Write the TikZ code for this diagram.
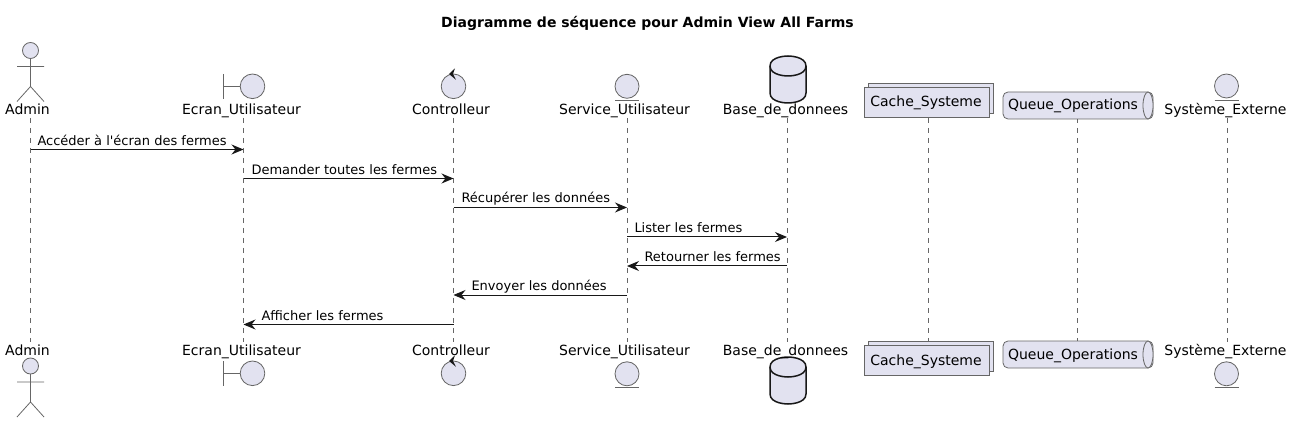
\documentclass[tikz,border=0pt]{standalone}
\usepackage{fontspec}
\setmainfont{DejaVu Sans}
\usetikzlibrary{arrows.meta}
\definecolor{partfill}{HTML}{E2E2F0}
\definecolor{partline}{HTML}{181818}
\definecolor{thinline}{HTML}{666666}
\tikzset{
  fig/.style={draw=thinline,fill=partfill,line width=.8pt},
  thin line/.style={draw=thinline,line width=.8pt},
  partname/.style={font=\fontsize{14}{16}\selectfont,inner sep=0pt,anchor=base},
  msg/.style={draw=partline,line width=1pt,-{Stealth[length=12pt,width=10pt,inset=4pt]}},
  msglabel/.style={font=\fontsize{13}{15}\selectfont,inner sep=0pt,anchor=base west},
  actorfig/.pic={
    \draw[fig] (0,0) circle (8);
    \draw[thin line] (0,8) -- (0,36) (-13.5,16) -- (13.5,16)
      (-13.5,51) -- (0,36) -- (13.5,51);
  },
  boundaryfig/.pic={
    \draw[thin line] (-29,-12.3) -- (-29,12.3) (-29,0) -- (-12.3,0);
    \draw[fig] (0,0) circle (12.3);
  },
  controlfig/.pic={
    \draw[fig] (0,0) circle (12.3);
    \fill[partline] (-4.5,-12.3) -- (1.5,-18) -- (-.5,-12.3) -- (2.5,-6.5) -- cycle;
  },
  entityfig/.pic={
    \draw[fig] (0,0) circle (12);
    \draw[thin line] (-12,14) -- (12,14);
  },
  dbfig/.pic={
    \draw[fill=partfill,draw=partline,line width=1.5pt] (-18,-13.5) .. controls (-18,-23.5) and (0,-23.5) .. (0,-23.5)
      .. controls (0,-23.5) and (18,-23.5) .. (18,-13.5) -- (18,13.5)
      .. controls (18,23.5) and (0,23.5) .. (0,23.5)
      .. controls (0,23.5) and (-18,23.5) .. (-18,13.5) -- cycle;
    \draw[partline,line width=1.5pt] (-18,-13.5) .. controls (-18,-3.5) and (0,-3.5) .. (0,-3.5)
      .. controls (0,-3.5) and (18,-3.5) .. (18,-13.5);
  },
  collfig/.pic={
    \draw[fig] (-58.5,-19) rectangle (66.5,11);
    \draw[fig] (-62.5,-15) rectangle (62.5,15);
  },
  queuefig/.pic={
    \draw[fig,rounded corners=5pt] (-75,-13.5) rectangle (75,13.5);
    \draw[fig] (70,0) ellipse (5 and 13.5);
  }
}
\begin{document}
\begin{tikzpicture}[x=1pt,y=-1pt]
  \useasboundingbox (0,0) rectangle (1291,422);
  \node[partname,font=\fontsize{14}{16}\selectfont\bfseries] (title) at (647.5,28) {Diagramme de séquence pour Admin View All Farms};

  % lifelines
  \foreach \part/\xpos in {admin/30.5,ecran/243.5,ctrl/453.5,service/627,base/787,cache/928,queue/1077.5,externe/1227}{
    \coordinate (\part-top) at (\xpos,118);
    \coordinate (\part-bot) at (\xpos,342);
    \draw[thin line,dash pattern=on 5pt off 5pt] (\part-top) -- (\part-bot);
    \foreach \row/\ypos in {1/149.5,2/178.5,3/207.5,4/237,5/266,6/295,7/324.5}{
      \coordinate (\part-\row) at (\xpos,\ypos);
    }
  }

  % top figures
  \pic at (30.5,50.5) {actorfig};
  \pic at (252.5,86.3) {boundaryfig};
  \pic at (453.5,86.3) {controlfig};
  \pic at (627,86.3) {entityfig};
  \pic at (788,79.5) {dbfig};
  \pic at (926.5,102) {collfig};
  \pic at (1078,105.5) {queuefig};
  \pic at (1226.5,86) {entityfig};

  % bottom figures
  \pic at (30.5,366) {actorfig};
  \pic at (252.5,373.3) {boundaryfig};
  \pic at (453.5,373.3) {controlfig};
  \pic at (627,373.8) {entityfig};
  \pic at (788,380.5) {dbfig};
  \pic at (926.5,360) {collfig};
  \pic at (1078,354.5) {queuefig};
  \pic at (1226.5,373.8) {entityfig};

  % names
  \node[partname] (admin-a) at (27.5,115) {Admin};
  \node[partname] (ecran-a) at (241.5,115) {Ecran\_Utilisateur};
  \node[partname] (ctrl-a) at (451,115) {Controlleur};
  \node[partname] (service-a) at (624.5,115) {Service\_Utilisateur};
  \node[partname] (base-a) at (785.5,115) {Base\_de\_donnees};
  \node[partname] (cache-a) at (926,107) {Cache\_Systeme};
  \node[partname] (queue-a) at (1073,110) {Queue\_Operations};
  \node[partname] (externe-a) at (1225.5,115) {Système\_Externe};

  \node[partname] (admin-b) at (27.5,355) {Admin};
  \node[partname] (ecran-b) at (241.5,355) {Ecran\_Utilisateur};
  \node[partname] (ctrl-b) at (451,355) {Controlleur};
  \node[partname] (service-b) at (624.5,355) {Service\_Utilisateur};
  \node[partname] (base-b) at (785.5,355) {Base\_de\_donnees};
  \node[partname] (cache-b) at (926,365) {Cache\_Systeme};
  \node[partname] (queue-b) at (1073,359) {Queue\_Operations};
  \node[partname] (externe-b) at (1225.5,355) {Système\_Externe};

  % messages
  \path (admin-1) edge[msg] node[msglabel,at start,xshift=6.5pt,yshift=4pt] {Accéder à l\textquotesingle écran des fermes} (ecran-1);
  \path (ecran-2) edge[msg] node[msglabel,at start,xshift=7.5pt,yshift=4pt] {Demander toutes les fermes} (ctrl-2);
  \path (ctrl-3) edge[msg] node[msglabel,at start,xshift=7.5pt,yshift=4.5pt] {Récupérer les données} (service-3);
  \path (service-4) edge[msg] node[msglabel,at start,xshift=7pt,yshift=4.5pt] {Lister les fermes} (base-4);
  \path (base-5) edge[msg] node[msglabel,at end,xshift=17pt,yshift=4.5pt] {Retourner les fermes} (service-5);
  \path (service-6) edge[msg] node[msglabel,at end,xshift=17.5pt,yshift=4.5pt] {Envoyer les données} (ctrl-6);
  \path (ctrl-7) edge[msg] node[msglabel,at end,xshift=17.5pt,yshift=4.5pt] {Afficher les fermes} (ecran-7);
\end{tikzpicture}
\end{document}
